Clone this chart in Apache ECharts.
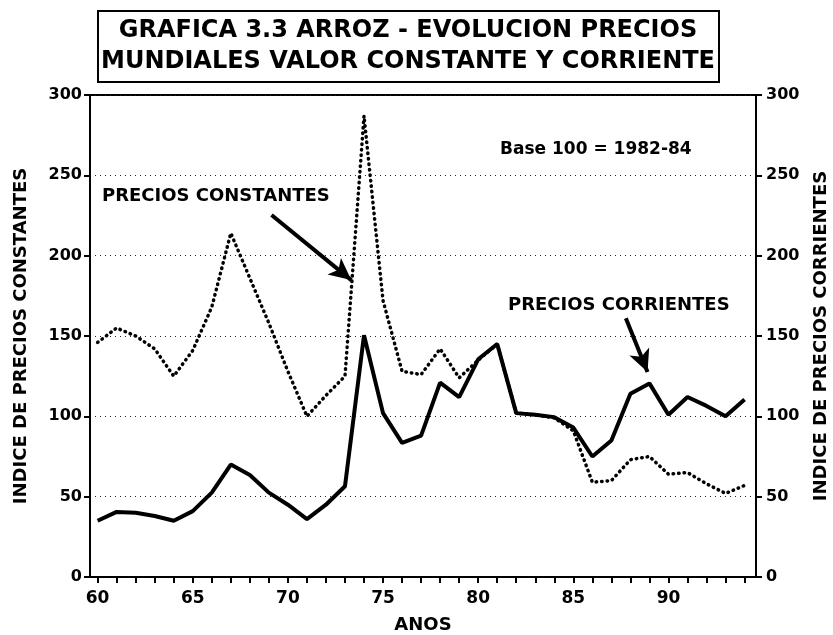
<!DOCTYPE html>
<html>
<head>
<meta charset="utf-8">
<script src="https://cdn.jsdelivr.net/npm/echarts@6/dist/echarts.min.js"></script>
<style>
  html, body { margin: 0; padding: 0; background: #fff; }
  #chart { width: 833px; height: 635px; }
</style>
</head>
<body>
<div id="chart"></div>
<script>
// años 1960-1994
var anos = [60,61,62,63,64,65,66,67,68,69,70,71,72,73,74,75,76,77,78,79,80,81,82,83,84,85,86,87,88,89,90,91,92,93,94];
// indice precios constantes (linea punteada)
var constantes = [146,155,150,142,125,141,168,214,186,158,128,100,113,125,287,172,128,126,142,124,135,145,102,101,99,91,59,60,73,75,64,65,58,52,57];
// indice precios corrientes (linea continua)
var corrientes = [35,40.5,40,38,35,41,52.5,70,63.5,52.5,45,36,45,56.5,150.5,102,83.5,88,121,112,135.5,145,102,101,99.5,93,75,85,114,120.5,101,112,106.5,100,110.5];
var ticksX = anos;
var labelsX = [60,65,70,75,80,85,90];

var font = '"DejaVu Sans", sans-serif';

function pares(xs, ys) {
  return xs.map(function (x, i) { return [x, ys[i]]; });
}

var chart = echarts.init(document.getElementById('chart'));

var ejeY = function (nombre, gap, margen) {
  return {
    type: 'value', min: 0, max: 300, interval: 50,
    name: nombre, nameLocation: 'middle', nameRotate: 90, nameGap: gap,
    nameTextStyle: { fontFamily: font, fontWeight: 'bold', fontSize: 18, color: '#000' },
    axisLine: { show: true, lineStyle: { color: '#000', width: 2 } },
    axisTick: { show: true, length: 6, lineStyle: { color: '#000', width: 2 } },
    axisLabel: { fontFamily: font, fontWeight: 'bold', fontSize: 16, color: '#000', margin: margen },
    splitLine: { show: false }
  };
};

var yIzq = ejeY('INDICE DE PRECIOS CONSTANTES', 60, 8);
yIzq.splitLine = { show: true, lineStyle: { color: '#222', width: 1, type: [1, 4] } };
var yDer = ejeY('INDICE DE PRECIOS CORRIENTES', 56, 10);

chart.setOption({
  animation: false,
  backgroundColor: '#fff',
  grid: {
    left: 90, right: 77, top: 95, bottom: 58,
    outerBoundsMode: 'none',
    show: true, borderColor: '#000', borderWidth: 2
  },
  xAxis: {
    type: 'value', min: 59.6, max: 94.6,
    name: 'ANOS', nameLocation: 'middle', nameGap: 39,
    nameTextStyle: { fontFamily: font, fontWeight: 'bold', fontSize: 18, color: '#000' },
    axisLine: { lineStyle: { color: '#000', width: 2 } },
    axisTick: { show: true, length: 6, customValues: ticksX, lineStyle: { color: '#000', width: 2 } },
    axisLabel: { customValues: labelsX, fontFamily: font, fontWeight: 'bold', fontSize: 17, color: '#000', margin: 13 },
    splitLine: { show: false }
  },
  yAxis: [yIzq, yDer],
  graphic: [
    {
      type: 'rect', left: 97, top: 10,
      shape: { width: 621, height: 71 },
      style: { fill: '#fff', stroke: '#000', lineWidth: 2 }
    },
    {
      type: 'text', x: 408, y: 46,
      style: {
        text: 'GRAFICA 3.3 ARROZ - EVOLUCION PRECIOS\nMUNDIALES VALOR CONSTANTE Y CORRIENTE',
        font: 'bold 24px ' + font, fill: '#000',
        align: 'center', verticalAlign: 'middle', lineHeight: 31
      }
    },
    {
      type: 'text', x: 102, y: 196,
      style: { text: 'PRECIOS CONSTANTES', font: 'bold 18px ' + font, fill: '#000', verticalAlign: 'middle' }
    },
    {
      type: 'text', x: 508, y: 305,
      style: { text: 'PRECIOS CORRIENTES', font: 'bold 18px ' + font, fill: '#000', verticalAlign: 'middle' }
    },
    {
      type: 'text', x: 500, y: 150,
      style: { text: 'Base 100 = 1982-84', font: 'bold 17px ' + font, fill: '#000', verticalAlign: 'middle' }
    }
  ],
  series: [
    {
      name: 'Precios constantes', type: 'line', yAxisIndex: 0,
      data: pares(anos, constantes), showSymbol: false, symbol: 'none',
      lineStyle: { color: '#000', width: 3.5, type: [0.5, 5], cap: 'round' },
      markLine: {
        silent: true, symbol: ['none', 'arrow'], symbolSize: [16, 22],
        label: { show: false },
        lineStyle: { color: '#000', width: 4, type: 'solid' },
        data: [
          [{ coord: [69.14, 225.3] }, { coord: [73.33, 184.8] }],
          [{ coord: [87.76, 161] }, { coord: [88.9, 127.6] }]
        ]
      }
    },
    {
      name: 'Precios corrientes', type: 'line', yAxisIndex: 1,
      data: pares(anos, corrientes), showSymbol: false, symbol: 'none',
      lineStyle: { color: '#000', width: 4 }
    }
  ]
});
</script>
</body>
</html>
